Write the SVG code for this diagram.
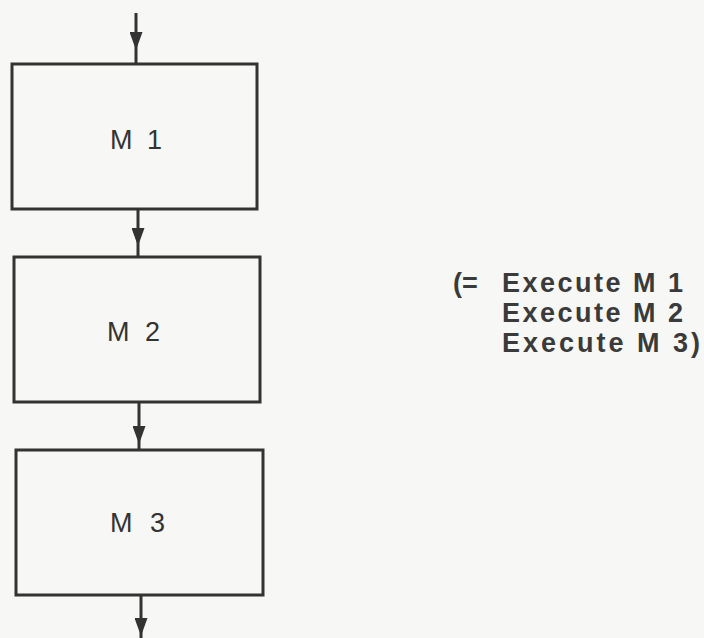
<svg xmlns="http://www.w3.org/2000/svg" width="704" height="638" viewBox="0 0 704 638">
  <defs>
    <marker id="headDown" viewBox="0 0 18 13" refX="18" refY="6.5" markerWidth="18" markerHeight="13" markerUnits="userSpaceOnUse" orient="auto">
      <path d="M0 0 L18 6.5 L0 13 Z" fill="#333"/>
    </marker>
    <style>
      .box { fill: none; stroke: #333; stroke-width: 3; }
      .link { fill: none; stroke: #333; stroke-width: 3; marker-mid: url(#headDown); }
      .label { font-family: "Liberation Sans", Arial, sans-serif; font-size: 27px; fill: #333; }
      .note { font-family: "Liberation Sans", Arial, sans-serif; font-size: 27px; font-weight: bold; fill: #3a3a3a; }
    </style>
  </defs>

  <rect width="704" height="638" fill="#f7f7f5"/>

  <!-- flow connectors, arrowhead placed at the middle vertex -->
  <g id="connectors">
    <path class="link" d="M136 13 L136 50 L136 64"/>
    <path class="link" d="M138 209 L138 246 L138 257"/>
    <path class="link" d="M139 402 L139 444 L139 450"/>
    <path class="link" d="M141 595 L141 636 L141 638"/>
  </g>

  <g id="m1">
    <rect class="box" x="12" y="64" width="245" height="145"/>
    <text class="label" x="110" y="149" textLength="52">M 1</text>
  </g>

  <g id="m2">
    <rect class="box" x="14" y="257" width="246" height="145"/>
    <text class="label" x="107" y="341" textLength="53">M 2</text>
  </g>

  <g id="m3">
    <rect class="box" x="16" y="450" width="247" height="145"/>
    <text class="label" x="110" y="532" textLength="55">M 3</text>
  </g>

  <g id="note">
    <text class="note" x="453" y="292">(=</text>
    <text class="note" x="502" y="292" textLength="181">Execute M 1</text>
    <text class="note" x="502" y="322" textLength="181">Execute M 2</text>
    <text class="note" x="502" y="352" textLength="198">Execute M 3)</text>
  </g>
</svg>
